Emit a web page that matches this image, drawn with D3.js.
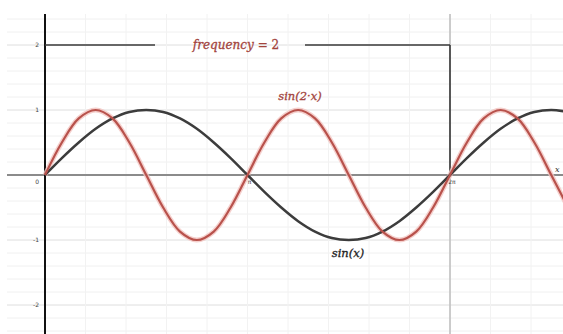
<!DOCTYPE html>
<html>
<head>
<meta charset="utf-8">
<script src="https://cdn.jsdelivr.net/npm/d3@7"></script>
<style>
  html, body { margin: 0; padding: 0; background: #fff; }
  svg { display: block; }
</style>
</head>
<body>
<svg id="chart" width="563" height="334"></svg>
<script>
const sampleStep = Math.PI / 12;
const sinXValues = [0, 0.26, 0.5, 0.71, 0.87, 0.97, 1, 0.97, 0.87, 0.71, 0.5, 0.26,
  0, -0.26, -0.5, -0.71, -0.87, -0.97, -1, -0.97, -0.87, -0.71, -0.5, -0.26,
  0, 0.26, 0.5, 0.71, 0.87, 0.97, 1, 0.97];
const sin2XValues = [0, 0.5, 0.87, 1, 0.87, 0.5, 0, -0.5, -0.87, -1, -0.87, -0.5,
  0, 0.5, 0.87, 1, 0.87, 0.5, 0, -0.5, -0.87, -1, -0.87, -0.5,
  0, 0.5, 0.87, 1, 0.87, 0.5, 0, -0.5];
const yTickValues = [2, 1, 0, -1, -2];
const yTickLabels = ["2", "1", "0", "-1", "-2"];
const xTickValues = [Math.PI, 2 * Math.PI];
const xTickLabels = ["π", "2π"];
const frequency = 2;
const labelFrequency = "frequency";
const labelSin2x = "sin(2·x)";
const labelSinx = "sin(x)";

// ---- scales ----
const svg = d3.select("#chart");
const W = 563, H = 334;
const x = d3.scaleLinear().domain([0, 2 * Math.PI]).range([45, 450]);
const y = d3.scaleLinear().domain([-2, 2]).range([305, 45]);

// ---- grid ----
const grid = svg.append("g");
const xMin = x.invert(7), xMax = x.invert(W);
const vMinor = d3.range(-1, 13).map(i => i * Math.PI / 5).filter(v => v >= xMin && v <= xMax);
const hMinor = d3.range(-13, 13).map(i => i * 0.2).filter(v => y(v) >= 14 && y(v) <= H);
grid.selectAll("line.hm").data(hMinor).join("line")
  .attr("x1", 7).attr("x2", W)
  .attr("y1", d => y(d)).attr("y2", d => y(d))
  .attr("stroke", d => Math.abs(d - Math.round(d)) < 1e-6 ? "#dedede" : "#f0f0f0")
  .attr("stroke-width", 1);
grid.selectAll("line.vm").data(vMinor).join("line")
  .attr("x1", d => x(d)).attr("x2", d => x(d))
  .attr("y1", 14).attr("y2", H)
  .attr("stroke", "#f2f2f2").attr("stroke-width", 1);
// major vertical line at 2π
grid.append("line")
  .attr("x1", x(2 * Math.PI)).attr("x2", x(2 * Math.PI))
  .attr("y1", 14).attr("y2", H)
  .attr("stroke", "#bcbcbc").attr("stroke-width", 1.5);

// ---- axes ----
svg.append("line").attr("x1", 7).attr("x2", W).attr("y1", y(0)).attr("y2", y(0))
  .attr("stroke", "#6a6a6a").attr("stroke-width", 1.5);
svg.append("line").attr("x1", x(0)).attr("x2", x(0)).attr("y1", 14).attr("y2", H)
  .attr("stroke", "#111").attr("stroke-width", 2);

const tickFont = "DejaVu Sans, sans-serif";
svg.selectAll("text.yt").data(yTickValues).join("text")
  .attr("x", 39)
  .attr("y", d => d === 0 ? y(0) + 9 : y(d) + 2)
  .attr("text-anchor", "end")
  .attr("font-family", tickFont).attr("font-size", 6).attr("fill", "#444")
  .text((d, i) => yTickLabels[i]);
svg.selectAll("text.xt").data(xTickValues).join("text")
  .attr("x", d => x(d) + 2).attr("y", y(0) + 9)
  .attr("text-anchor", "middle")
  .attr("font-family", tickFont).attr("font-size", 6).attr("fill", "#444")
  .text((d, i) => xTickLabels[i]);
svg.append("text").attr("x", 555).attr("y", y(0) - 3)
  .attr("font-family", "DejaVu Serif, serif").attr("font-style", "italic")
  .attr("font-size", 8).attr("fill", "#333").text("x");

// ---- frequency box ----
const boxColor = "#3a3a3a";
svg.append("line").attr("x1", x(0)).attr("x2", 155).attr("y1", y(frequency)).attr("y2", y(frequency))
  .attr("stroke", boxColor).attr("stroke-width", 1.6);
svg.append("line").attr("x1", 305).attr("x2", x(2 * Math.PI)).attr("y1", y(frequency)).attr("y2", y(frequency))
  .attr("stroke", boxColor).attr("stroke-width", 1.6);
svg.append("line").attr("x1", x(2 * Math.PI)).attr("x2", x(2 * Math.PI)).attr("y1", y(frequency)).attr("y2", y(0))
  .attr("stroke", boxColor).attr("stroke-width", 1.6);

const mathFont = "DejaVu Serif, serif";
const ft = svg.append("text").attr("x", 236).attr("y", y(frequency) + 4)
  .attr("text-anchor", "middle")
  .attr("font-family", mathFont).attr("font-size", 12)
  .attr("fill", "#a3443d").attr("stroke", "#a3443d").attr("stroke-width", 0.3);
ft.append("tspan").attr("font-style", "italic").text(labelFrequency);
ft.append("tspan").text(" = " + frequency);

// ---- curves ----
const pts = vals => vals.map((v, i) => [i * sampleStep, v]);
const line = d3.line().x(d => x(d[0])).y(d => y(d[1])).curve(d3.curveCatmullRom.alpha(0.5));

svg.append("path").datum(pts(sin2XValues)).attr("d", line)
  .attr("fill", "none").attr("stroke", "#f2c4c0").attr("stroke-width", 5).attr("opacity", 0.8);
svg.append("path").datum(pts(sinXValues)).attr("d", line)
  .attr("fill", "none").attr("stroke", "#3c3c3c").attr("stroke-width", 2.5);
svg.append("path").datum(pts(sin2XValues)).attr("d", line)
  .attr("fill", "none").attr("stroke", "#b8524c").attr("stroke-width", 2.2);

// ---- curve labels ----
svg.append("text").attr("x", 300).attr("y", 100)
  .attr("text-anchor", "middle")
  .attr("font-family", mathFont).attr("font-style", "italic")
  .attr("font-size", 11.5).attr("fill", "#a3443d").attr("stroke", "#a3443d").attr("stroke-width", 0.3)
  .text(labelSin2x);
svg.append("text").attr("x", 348).attr("y", 257)
  .attr("text-anchor", "middle")
  .attr("font-family", mathFont).attr("font-style", "italic")
  .attr("font-size", 11.5).attr("fill", "#222").attr("stroke", "#222").attr("stroke-width", 0.3)
  .text(labelSinx);
</script>
</body>
</html>
